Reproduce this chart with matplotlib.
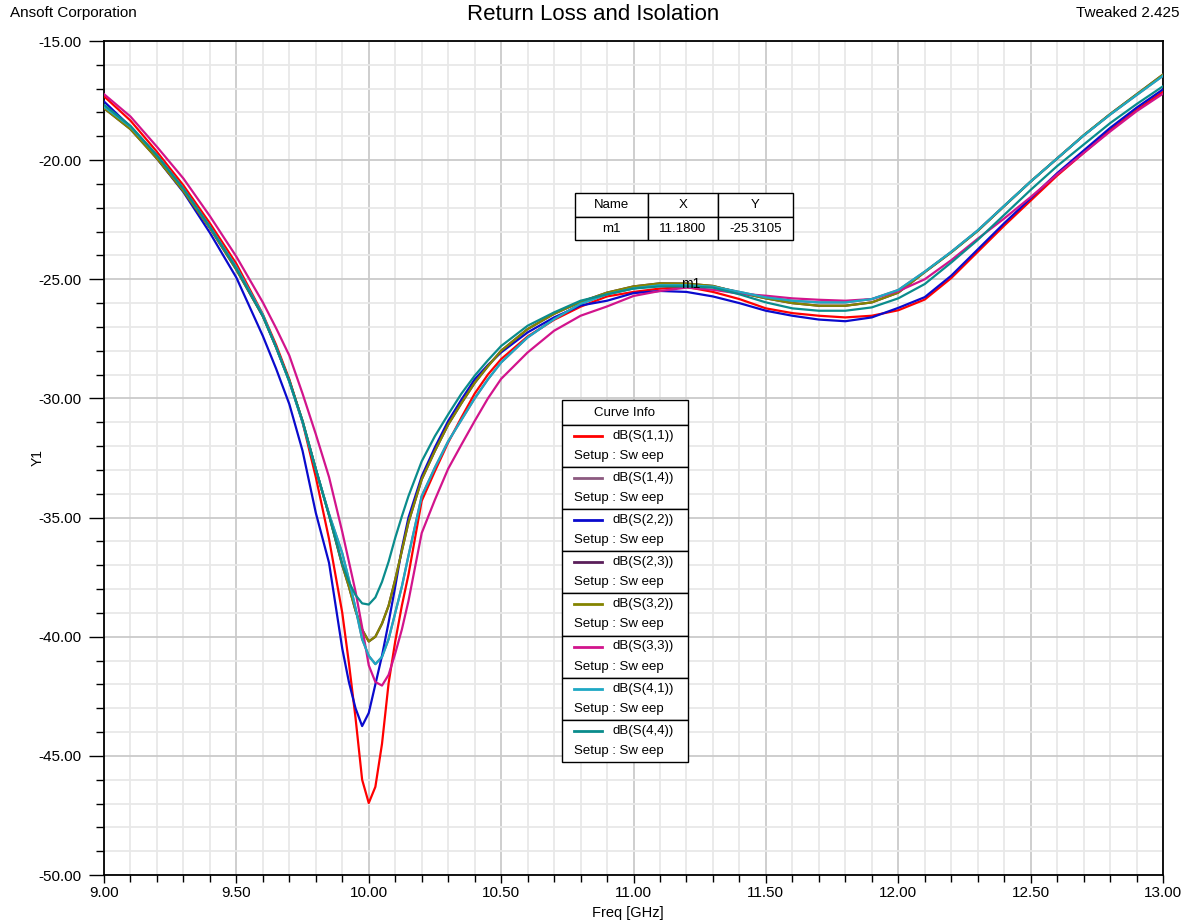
import matplotlib
matplotlib.use("Agg")
import matplotlib.pyplot as plt
from matplotlib.patches import Rectangle
from matplotlib.lines import Line2D
from matplotlib.ticker import MultipleLocator, FormatStrFormatter

plt.rcParams['font.family'] = ['Liberation Sans', 'DejaVu Sans']

# frequency points (GHz)
freq = [9.0, 9.1, 9.2, 9.3, 9.4, 9.5, 9.6, 9.65, 9.7, 9.75, 9.8, 9.85, 9.9, 9.925, 9.95, 9.975,
        10.0, 10.025, 10.05, 10.075, 10.1, 10.125, 10.15, 10.2, 10.25, 10.3, 10.35, 10.4,
        10.45, 10.5, 10.6, 10.7, 10.8, 10.9, 11.0, 11.1, 11.2, 11.3, 11.4, 11.5, 11.6, 11.7,
        11.8, 11.9, 12.0, 12.1, 12.2, 12.3, 12.4, 12.5, 12.6, 12.7, 12.8, 12.9, 13.0]

s11 = [-17.32, -18.34, -19.65, -21.06, -22.65, -24.35, -26.47, -27.75, -29.2, -31.0, -33.3, -35.9,
       -39.0, -41.1, -43.4, -46.0, -46.98, -46.3, -44.5, -41.95, -40.2, -38.7, -37.4, -34.3,
       -33.05, -31.85, -30.8, -29.8, -29.0, -28.35, -27.4, -26.7, -26.15, -25.72, -25.53,
       -25.39, -25.32, -25.53, -25.83, -26.22, -26.42, -26.53, -26.6, -26.53, -26.3, -25.85,
       -24.95, -23.85, -22.75, -21.7, -20.65, -19.7, -18.75, -17.9, -17.13]

s22 = [-17.54, -18.6, -19.93, -21.34, -23.05, -24.93, -27.38, -28.75, -30.24, -32.2, -34.8, -36.9,
       -40.5, -41.9, -43.0, -43.75, -43.2, -42.0, -40.8, -39.4, -37.9, -36.3, -35.0, -33.27,
       -32.05, -30.95, -30.05, -29.2, -28.6, -28.07, -27.23, -26.6, -26.1, -25.9, -25.58,
       -25.49, -25.53, -25.72, -26.0, -26.32, -26.53, -26.69, -26.76, -26.6, -26.2, -25.75,
       -24.85, -23.75, -22.65, -21.6, -20.55, -19.6, -18.65, -17.8, -17.03]

s32 = [-17.82, -18.7, -19.93, -21.3, -22.85, -24.6, -26.55, -27.85, -29.25, -30.95, -32.97, -34.9,
       -37.0, -37.9, -38.9, -39.7, -40.2, -40.0, -39.45, -38.7, -37.6, -36.4, -35.2, -33.4,
       -32.2, -31.1, -30.2, -29.35, -28.65, -28.0, -27.09, -26.45, -25.95, -25.56, -25.3,
       -25.17, -25.18, -25.28, -25.56, -25.8, -26.0, -26.11, -26.11, -25.97, -25.56, -24.7,
       -23.87, -22.97, -21.93, -20.9, -19.93, -18.96, -18.07, -17.24, -16.41]

s33 = [-17.23, -18.17, -19.44, -20.77, -22.35, -24.05, -25.97, -27.05, -28.2, -29.8, -31.5, -33.3,
       -35.6, -36.85, -38.1, -39.6, -41.2, -41.9, -42.05, -41.6, -40.7, -39.7, -38.5, -35.65,
       -34.25, -32.95, -31.94, -30.95, -30.0, -29.18, -28.07, -27.16, -26.53, -26.14, -25.7,
       -25.49, -25.35, -25.44, -25.6, -25.69, -25.8, -25.86, -25.9, -25.83, -25.5, -25.0,
       -24.2, -23.3, -22.45, -21.55, -20.6, -19.7, -18.8, -17.95, -17.21]

s41 = [-17.75, -18.6, -19.8, -21.2, -22.8, -24.5, -26.5, -27.85, -29.3, -31.0, -32.97, -34.85,
       -36.5, -37.6, -38.8, -40.1, -40.8, -41.15, -40.85, -40.1, -39.0, -37.9, -36.6, -34.1,
       -32.9, -31.8, -30.9, -30.0, -29.2, -28.49, -27.44, -26.67, -26.03, -25.63, -25.38,
       -25.25, -25.25, -25.31, -25.53, -25.76, -25.9, -25.97, -25.97, -25.83, -25.45, -24.68,
       -23.85, -22.95, -21.92, -20.9, -19.93, -18.97, -18.09, -17.27, -16.46]

s44 = [-17.68, -18.56, -19.8, -21.2, -22.8, -24.55, -26.55, -27.85, -29.27, -30.95, -32.97, -34.9,
       -36.95, -37.7, -38.25, -38.6, -38.65, -38.35, -37.7, -36.85, -35.85, -34.95, -34.1,
       -32.64, -31.58, -30.67, -29.8, -29.05, -28.4, -27.8, -26.95, -26.39, -25.9, -25.63,
       -25.39, -25.3, -25.3, -25.35, -25.63, -25.97, -26.22, -26.32, -26.32, -26.18, -25.8,
       -25.2, -24.3, -23.35, -22.3, -21.25, -20.25, -19.35, -18.45, -17.65, -16.9]

# reciprocal pairs: S14 = S41, S23 = S32 (hidden under them in the plot)
s14 = s41
s23 = s32

names = ["dB(S(1,1))", "dB(S(1,4))", "dB(S(2,2))", "dB(S(2,3))",
         "dB(S(3,2))", "dB(S(3,3))", "dB(S(4,1))", "dB(S(4,4))"]
series = [s11, s14, s22, s23, s32, s33, s41, s44]
colors = ["#FF0000", "#8C5A80", "#0A0ACD", "#5A1E5A",
          "#848400", "#D2148C", "#1EA8C4", "#0A8C8C"]

W, H = 1186, 921
fig = plt.figure(figsize=(W / 100, H / 100), dpi=100)
ax = fig.add_axes([104 / W, 1 - 875 / H, (1163 - 104) / W, (875 - 41) / H])

for s, c in zip(series, colors):
    ax.plot(freq, s, color=c, lw=1.6, zorder=3)

ax.set_xlim(9.0, 13.0)
ax.set_ylim(-50, -15)
ax.xaxis.set_major_locator(MultipleLocator(0.5))
ax.xaxis.set_minor_locator(MultipleLocator(0.1))
ax.yaxis.set_major_locator(MultipleLocator(5))
ax.yaxis.set_minor_locator(MultipleLocator(1))
ax.xaxis.set_major_formatter(FormatStrFormatter('%.2f'))
ax.yaxis.set_major_formatter(FormatStrFormatter('%.2f'))
ax.set_axisbelow(True)
ax.grid(which='minor', color='#E8E8E8', lw=1.3)
ax.grid(which='major', color='#CACACA', lw=1.3)
for sp in ax.spines.values():
    sp.set_linewidth(1.3)
    sp.set_color('black')

ax.tick_params(axis='y', which='major', length=11, width=1, labelsize=11, pad=5, direction='out')
ax.tick_params(axis='y', which='minor', length=5.5, width=1, direction='out')
ax.tick_params(axis='x', which='major', length=6, width=1, labelsize=11, pad=2, direction='out')
ax.tick_params(axis='x', which='minor', length=5, width=1, direction='out')

# texts around the plot
fig.text(593 / W, 1 - 15 / H, "Return Loss and Isolation", ha='center', va='center', fontsize=16)
fig.text(10 / W, 1 - 13 / H, "Ansoft Corporation", ha='left', va='center', fontsize=11)
fig.text(1180 / W, 1 - 13 / H, "Tweaked 2.425", ha='right', va='center', fontsize=11)
fig.text(38 / W, 1 - 458 / H, "Y1", ha='center', va='center', rotation=90, fontsize=10)
fig.text(628 / W, 1 - 913 / H, "Freq [GHz]", ha='center', va='center', fontsize=10.5)

# marker m1
m_x, m_y = 11.18, -25.3105
ax.annotate("m1", xy=(m_x, m_y), xytext=(0, 2), textcoords='offset points',
            ha='left', va='center', fontsize=10, zorder=5)


def px(x, y):
    return x / W, 1 - y / H


def box(x0, y0, x1, y1):
    fx, fy = px(x0, y1)
    r = Rectangle((fx, fy), (x1 - x0) / W, (y1 - y0) / H, transform=fig.transFigure,
                  facecolor='white', edgecolor='black', lw=1.0, zorder=10)
    fig.add_artist(r)


# marker table
cols = [575, 648, 718, 793]
rows = [193, 217, 240]
cells = [["Name", "X", "Y"], ["m1", "11.1800", "-25.3105"]]
for i in range(2):
    for j in range(3):
        box(cols[j], rows[i], cols[j + 1], rows[i + 1])
        fig.text(*px((cols[j] + cols[j + 1]) / 2, (rows[i] + rows[i + 1]) / 2), cells[i][j],
                 ha='center', va='center', fontsize=9.5, zorder=11)

# curve info legend
lx0, lx1 = 562, 688
box(lx0, 400, lx1, 425)
fig.text(*px(625, 412.5), "Curve Info", ha='center', va='center', fontsize=9.5, zorder=11)
row_h = 42.1
for k, (nm, c) in enumerate(zip(names, colors)):
    top = 425 + k * row_h
    box(lx0, top, lx1, top + row_h)
    x_a, y_a = px(574, top + 11)
    x_b, _ = px(602, top + 11)
    fig.add_artist(Line2D([x_a, x_b], [y_a, y_a], transform=fig.transFigure,
                          color=c, lw=2, zorder=11))
    fig.text(*px(612, top + 11), nm, ha='left', va='center', fontsize=9.5, zorder=11)
    fig.text(*px(574, top + 31), "Setup : Sw eep", ha='left', va='center', fontsize=9.5, zorder=11)

fig.savefig("out.png", dpi=100)
